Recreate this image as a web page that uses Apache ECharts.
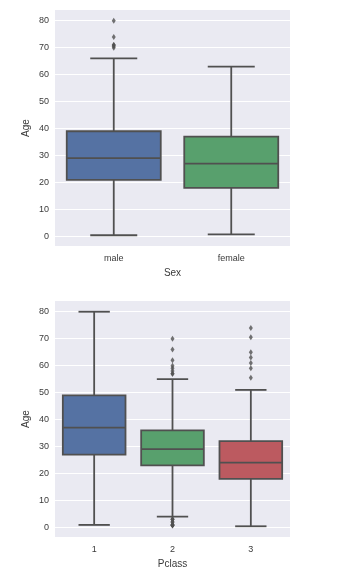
<!DOCTYPE html>
<html>
<head>
<meta charset="utf-8">
<script src="https://cdn.jsdelivr.net/npm/echarts@6/dist/echarts.min.js"></script>
<style>
  html, body { margin: 0; padding: 0; background: #ffffff; }
  #chart { width: 338px; height: 578px; }
</style>
</head>
<body>
<div id="chart"></div>
<script>
// Age by Sex
const sexCategories = ['male', 'female'];
// [lower whisker, Q1, median, Q3, upper whisker]
const sexMale = [0.42, 21, 29, 39, 66];
const sexFemale = [0.75, 18, 27, 37, 63];
const sexMaleOutliers = [70, 70.5, 71, 71, 74, 80];
const sexFemaleOutliers = [];

// Age by Pclass
const pclassCategories = ['1', '2', '3'];
const pclass1 = [0.92, 27, 37, 49, 80];
const pclass2 = [4, 23, 29, 36, 55];
const pclass3 = [0.42, 18, 24, 32, 51];
const pclass1Outliers = [];
const pclass2Outliers = [0.67, 0.83, 0.83, 1, 1, 2, 2, 3, 3, 3, 57, 57, 58, 59, 60, 62, 66, 70];
const pclass3Outliers = [55.5, 59, 61, 63, 65, 70.5, 74];

const ageTicks = [0, 10, 20, 30, 40, 50, 60, 70, 80];
const ageMin = -3.56;
const ageMax = 83.98;

const boxColors = ['#5572A3', '#58A06D', '#BC5A60'];
const lineColor = '#505050';
const textColor = '#3a3a3a';
const fontFamily = '"Liberation Sans", Arial, sans-serif';

function boxRows(statsList) {
  return statsList.map((s, i) => [i].concat(s));
}
function outlierRows(list) {
  const rows = [];
  list.forEach((vals, i) => vals.forEach(v => rows.push([i, v])));
  return rows;
}

function renderBox(params, api) {
  const cat = api.value(0);
  const lo = api.coord([cat, api.value(1)]);
  const q1 = api.coord([cat, api.value(2)]);
  const med = api.coord([cat, api.value(3)]);
  const q3 = api.coord([cat, api.value(4)]);
  const hi = api.coord([cat, api.value(5)]);
  const band = api.size([1, 0])[0];
  const w = band * 0.8;
  const cap = w * 0.5;
  const x = q1[0];
  const lineStyle = { stroke: lineColor, lineWidth: 1.8, fill: null };
  return {
    type: 'group',
    children: [
      { type: 'line', shape: { x1: x, y1: q3[1], x2: x, y2: hi[1] }, style: lineStyle },
      { type: 'line', shape: { x1: x, y1: q1[1], x2: x, y2: lo[1] }, style: lineStyle },
      { type: 'line', shape: { x1: x - cap / 2, y1: hi[1], x2: x + cap / 2, y2: hi[1] }, style: lineStyle },
      { type: 'line', shape: { x1: x - cap / 2, y1: lo[1], x2: x + cap / 2, y2: lo[1] }, style: lineStyle },
      {
        type: 'rect',
        shape: { x: x - w / 2, y: q3[1], width: w, height: q1[1] - q3[1] },
        style: { fill: boxColors[params.dataIndex], stroke: lineColor, lineWidth: 1.8 }
      },
      { type: 'line', shape: { x1: x - w / 2, y1: med[1], x2: x + w / 2, y2: med[1] }, style: lineStyle }
    ]
  };
}

function xAxisFor(gridIndex, cats, name) {
  return {
    type: 'category', gridIndex: gridIndex, data: cats,
    name: name, nameLocation: 'middle', nameGap: 22,
    nameTextStyle: { color: textColor, fontSize: 10, fontFamily: fontFamily },
    axisLine: { show: false }, axisTick: { show: false },
    axisLabel: { color: textColor, fontSize: 9, fontFamily: fontFamily, margin: 8 },
    splitLine: { show: false }
  };
}
function yAxisFor(gridIndex) {
  return {
    type: 'value', gridIndex: gridIndex, min: ageMin, max: ageMax,
    name: 'Age', nameLocation: 'middle', nameGap: 24, nameRotate: 90,
    nameMoveOverlap: false,
    nameTextStyle: { color: textColor, fontSize: 10, fontFamily: fontFamily },
    axisLine: { show: false },
    axisTick: { show: false, customValues: ageTicks },
    axisLabel: { color: textColor, fontSize: 9, fontFamily: fontFamily, margin: 6, customValues: ageTicks },
    splitLine: { show: true, lineStyle: { color: '#ffffff', width: 1 } }
  };
}

const chart = echarts.init(document.getElementById('chart'), null, { renderer: 'canvas' });
chart.setOption({
  animation: false,
  backgroundColor: '#ffffff',
  grid: [
    { left: 55, top: 10, width: 235, height: 236, show: true, backgroundColor: '#EAEAF2', borderWidth: 0 },
    { left: 55, top: 301, width: 235, height: 236, show: true, backgroundColor: '#EAEAF2', borderWidth: 0 }
  ],
  xAxis: [xAxisFor(0, sexCategories, 'Sex'), xAxisFor(1, pclassCategories, 'Pclass')],
  yAxis: [yAxisFor(0), yAxisFor(1)],
  series: [
    {
      type: 'custom', xAxisIndex: 0, yAxisIndex: 0,
      renderItem: renderBox,
      encode: { x: 0, y: [1, 2, 3, 4, 5] },
      data: boxRows([sexMale, sexFemale])
    },
    {
      type: 'scatter', xAxisIndex: 0, yAxisIndex: 0,
      symbol: 'diamond', symbolSize: [4, 6],
      itemStyle: { color: lineColor },
      data: outlierRows([sexMaleOutliers, sexFemaleOutliers])
    },
    {
      type: 'custom', xAxisIndex: 1, yAxisIndex: 1,
      renderItem: renderBox,
      encode: { x: 0, y: [1, 2, 3, 4, 5] },
      data: boxRows([pclass1, pclass2, pclass3])
    },
    {
      type: 'scatter', xAxisIndex: 1, yAxisIndex: 1,
      symbol: 'diamond', symbolSize: [4, 6],
      itemStyle: { color: lineColor },
      data: outlierRows([pclass1Outliers, pclass2Outliers, pclass3Outliers])
    }
  ]
});
</script>
</body>
</html>
